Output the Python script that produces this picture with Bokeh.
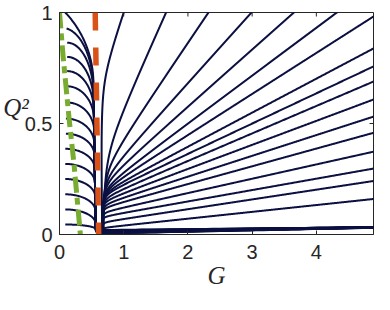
import numpy as np
from bokeh.plotting import figure
from bokeh.models import Range1d, FixedTicker
from bokeh.embed import file_html
from bokeh.resources import INLINE

# ---------------- data ----------------
G_MAX = 4.89
x_ticks = [0, 1, 2, 3, 4]
y_ticks = [0, 0.5, 1]
y_tick_text = ["0", "0.5", "1"]

# orange dashed separatrix (G at Q2 = 1 and at Q2 = 0)
orange_G = [0.556, 0.610]
orange_Q2 = [1.0, 0.0]

# green dash-dot boundary
green_G = [0.0, 0.057, 0.150, 0.225, 0.325]
green_Q2 = [1.0, 0.80, 0.52, 0.32, 0.0]

# trajectories entering from the left
left_start_G = [0.09, 0.11, 0.12, 0.12, 0.12, 0.11, 0.11, 0.10, 0.10, 0.09, 0.09, 0.09, 0.09, 0.09, 0.09]
left_start_Q2 = [1.0, 0.928, 0.864, 0.800, 0.736, 0.668, 0.595, 0.522, 0.454, 0.386, 0.318, 0.250, 0.181, 0.113, 0.045]
left_start_angle = [0.8, 0.15, 0, 0, 0, 0, 0, 0, 0, 0, 0, 0, 0, 0, 0]
left_drop_Q2 = [0.32, 0.28, 0.24, 0.21, 0.18, 0.15, 0.13, 0.115, 0.10, 0.09, 0.085, 0.08, 0.075, 0.065, 0.021]
left_floor_Q2 = [0.020, 0.019, 0.018, 0.017, 0.016, 0.015, 0.014, 0.013, 0.012, 0.010, 0.009, 0.008, 0.006, 0.005, 0.004]
left_end_Q2 = [0.033, 0.033, 0.033, 0.033, 0.032, 0.032, 0.032, 0.032, 0.032, 0.031, 0.031, 0.031, 0.031, 0.031, 0.030]

# fan of trajectories leaving to the right
fan_top_G = [1.00, 1.66, 2.32, 2.99, 3.65, 4.32]            # crossing Q2 = 1
fan_right_Q2 = [0.982, 0.838, 0.757, 0.689, 0.608, 0.531,
                0.458, 0.373, 0.297, 0.241, 0.160]          # crossing G = G_MAX
fan_turn_Q2 = [0.70, 0.36, 0.29, 0.25, 0.23, 0.21, 0.20, 0.19, 0.18,
               0.165, 0.15, 0.135, 0.12, 0.10, 0.08, 0.055, 0.03]
fan_turn_G = [0.095, 0.14, 0.13, 0.12, 0.12, 0.12, 0.12, 0.12, 0.11,
              0.11, 0.10, 0.10, 0.09, 0.09, 0.08, 0.08, 0.07]

# ---------------- styling ----------------
NAVY = "#0b1040"
ORANGE = "#d95319"
GREEN = "#77ac30"
AX = "#262626"
OFF = 0.045  # offset of the curve bundles from the dashed line
W, H = 374, 294
B_LEFT, B_RIGHT, B_TOP, B_BOTTOM = 54, 1, 12, 60
FRAME_W = W - B_LEFT - B_RIGHT
FRAME_H = H - B_TOP - B_BOTTOM
TICK = 4


def band(q):
    return np.interp(q, orange_Q2[::-1], orange_G[::-1])


xs, ys = [], []

# left trajectories
for gs, qs, th0, dq, qf, qe in zip(left_start_G, left_start_Q2, left_start_angle,
                                   left_drop_Q2, left_floor_Q2, left_end_Q2):
    qb = qs - dq
    gb = band(qb) - OFF
    a = (gb - gs) / (1 - np.sin(th0))
    d = (qs - qb) / np.cos(th0)
    g0 = gs - a * np.sin(th0)
    th = np.linspace(th0, np.pi / 2, 60)
    G1 = g0 + a * np.sin(th)
    Q1 = qb + d * np.cos(th)
    qc = qf + 0.02
    qv = np.linspace(qb, qc, 30)
    Gv = band(qv) - OFF
    ph = np.linspace(0, np.pi / 2, 15)
    Gc = Gv[-1] + 0.06 * (1 - np.cos(ph))
    Qc = qc - 0.02 * np.sin(ph)
    Gr = np.linspace(Gc[-1], G_MAX + 0.05, 40)
    Qr = qf + (qe - qf) * (Gr - Gc[-1]) / (G_MAX - Gc[-1])
    xs.append(np.concatenate([G1, Gv, Gc, Gr]).tolist())
    ys.append(np.concatenate([Q1, qv, Qc, Qr]).tolist())


def sp(q, h, e):
    return 0.5 * ((q - h) + np.sqrt((q - h) ** 2 + e * e))


def gd(q):
    return band(q) + OFF


exits = [(1.0, g) for g in fan_top_G] + [(q, G_MAX) for q in fan_right_Q2]
for (qx, gx), h, b in zip(exits, fan_turn_Q2, fan_turn_G):
    s = (gx - gd(qx)) / max(qx - h, 0.05)
    e = 2 * b / s
    for _ in range(50):
        e = 2 * b / s
        s = (gx - gd(qx)) / sp(qx, h, e)
    q = np.linspace(0.0, min(qx + 0.05, 1.05), 700)
    G = gd(q) + s * sp(q, h, e)
    xs.append(G.tolist())
    ys.append(q.tolist())

# ---------------- figure ----------------
p = figure(width=W, height=H, x_range=Range1d(0, G_MAX), y_range=Range1d(0, 1),
           output_backend="svg", toolbar_location=None,
           min_border_left=B_LEFT, min_border_right=B_RIGHT,
           min_border_top=B_TOP, min_border_bottom=B_BOTTOM)
p.grid.visible = False
p.background_fill_color = "white"
p.border_fill_color = "white"
p.outline_line_color = AX
p.outline_line_width = 1

p.multi_line(xs, ys, line_color=NAVY, line_width=2.0, line_join="round")
p.line(orange_G, orange_Q2, line_color=ORANGE, line_width=5.5, line_dash="18 17")
p.line(green_G, green_Q2, line_color=GREEN, line_width=5, line_dash="16 5 7 5")

# inner tick marks on the top and right edges of the box
tk_y = TICK / FRAME_H
tk_x = TICK / FRAME_W * G_MAX
p.segment(x0=x_ticks, y0=[1.0] * len(x_ticks), x1=x_ticks, y1=[1.0 - tk_y] * len(x_ticks),
          line_color=AX, line_width=1)
p.segment(x0=[G_MAX] * len(y_ticks), y0=y_ticks, x1=[G_MAX - tk_x] * len(y_ticks), y1=y_ticks,
          line_color=AX, line_width=1)

for ax in (p.xaxis[0], p.yaxis[0]):
    ax.major_tick_in = TICK
    ax.major_tick_out = 0
    ax.minor_tick_line_color = None
    ax.axis_line_color = AX
    ax.major_tick_line_color = AX
    ax.major_label_text_font = "Liberation Sans"
    ax.major_label_text_font_size = "20px"
    ax.major_label_text_color = AX
    ax.axis_label_text_font = "Liberation Serif"
    ax.axis_label_text_font_style = "italic"
    ax.axis_label_text_font_size = "25px"
    ax.axis_label_text_color = AX
p.xaxis.ticker = FixedTicker(ticks=x_ticks)
p.yaxis.ticker = FixedTicker(ticks=y_ticks)
p.yaxis.major_label_overrides = dict(zip(y_ticks, y_tick_text))
p.xaxis.major_label_standoff = 10
p.yaxis.major_label_standoff = 7

p.xaxis.axis_label = "G"
p.xaxis.axis_label_standoff = 0
p.yaxis.axis_label = "Q²\n "
p.yaxis.axis_label_standoff = -7
try:
    p.yaxis.axis_label_orientation = "horizontal"
except Exception:
    pass

open("out.html", "w").write(file_html(p, INLINE))
